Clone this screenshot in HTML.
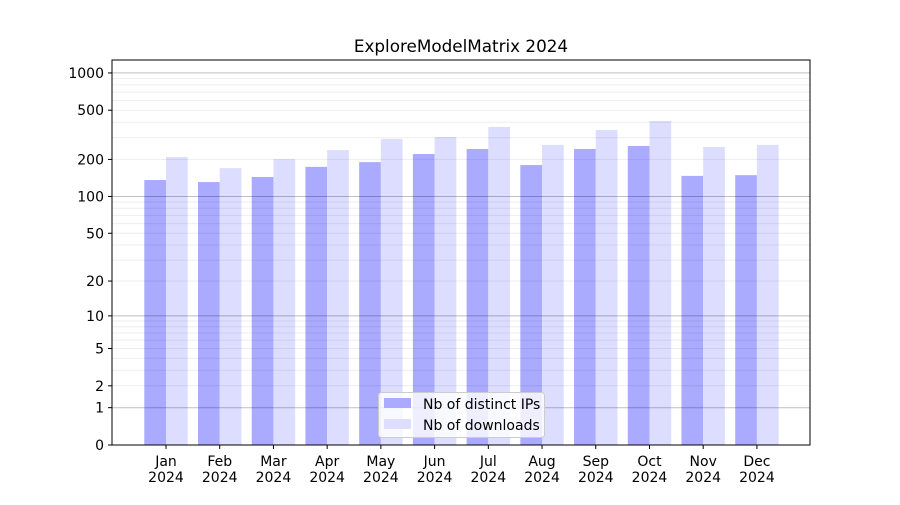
<!DOCTYPE html>
<html><head><meta charset="utf-8"><style>
html,body{margin:0;padding:0;background:#fff;}
svg text{font-family:"DejaVu Sans","Liberation Sans",sans-serif;fill:#000;}
</style></head><body>
<svg id="c" width="900" height="500" xmlns="http://www.w3.org/2000/svg"></svg>
<script>
const s=document.getElementById('c');
const Y=v=>445-124*Math.log10(1+v);
let h='';
h+='<rect width="900" height="500" fill="#fff"/>';
h+='<text x="461" y="52" font-size="16.8" text-anchor="middle">ExploreModelMatrix 2024</text>';
const d=[136,131,144,174,190,221,243,180,243,257,147,149];
const l=[209,170,201,238,293,304,366,262,346,409,252,262];
const m=['Jan','Feb','Mar','Apr','May','Jun','Jul','Aug','Sep','Oct','Nov','Dec'];
for(let i=0;i<12;i++){
 const c=166+53.72*i;
 h+=`<rect x="${c-21.7}" y="${Y(d[i])}" width="21.7" height="${445-Y(d[i])}" fill="#aaaaff"/>`;
 h+=`<rect x="${c}" y="${Y(l[i])}" width="21.7" height="${445-Y(l[i])}" fill="#ddddff"/>`;
 h+=`<line x1="${c}" y1="445" x2="${c}" y2="449" stroke="#000"/>`;
 h+=`<text x="${c}" y="466" font-size="14" text-anchor="middle">${m[i]}</text>`;
 h+=`<text x="${c}" y="482" font-size="14" text-anchor="middle">2024</text>`;
}
for(const dec of [1,10,100,1000]){
 for(let k=1;k<10;k++){
  const v=dec*k; if(v>1270)break;
  const y=Y(v).toFixed(1);
  if(k==1) h+=`<line x1="112" x2="810" y1="${y}" y2="${y}" stroke="#000" stroke-opacity="0.25" stroke-width="1"/>`;
  else h+=`<line x1="112" x2="810" y1="${y}" y2="${y}" stroke="#000" stroke-opacity="0.07" stroke-width="1"/>`;
 }
}
const t=[0,1,2,5,10,20,50,100,200,500,1000];
for(const v of t){const y=Y(v);
 h+=`<line x1="108" x2="112" y1="${y}" y2="${y}" stroke="#000"/>`;
 h+=`<text x="104" y="${y+5}" font-size="14" text-anchor="end">${v}</text>`;}
h+='<rect x="112" y="60" width="698" height="385" fill="none" stroke="#000" stroke-width="1"/>';
h+='<rect x="378.5" y="392.5" width="166" height="45" rx="3" fill="#fff" fill-opacity="0.8" stroke="#ccc"/>';
h+='<rect x="384" y="398" width="27" height="10" fill="#aaaaff"/>';
h+='<rect x="384" y="419" width="27" height="10" fill="#ddddff"/>';
h+='<text x="423" y="409" font-size="14">Nb of distinct IPs</text>';
h+='<text x="423" y="430" font-size="14">Nb of downloads</text>';
s.innerHTML=h;
</script>
</body></html>
